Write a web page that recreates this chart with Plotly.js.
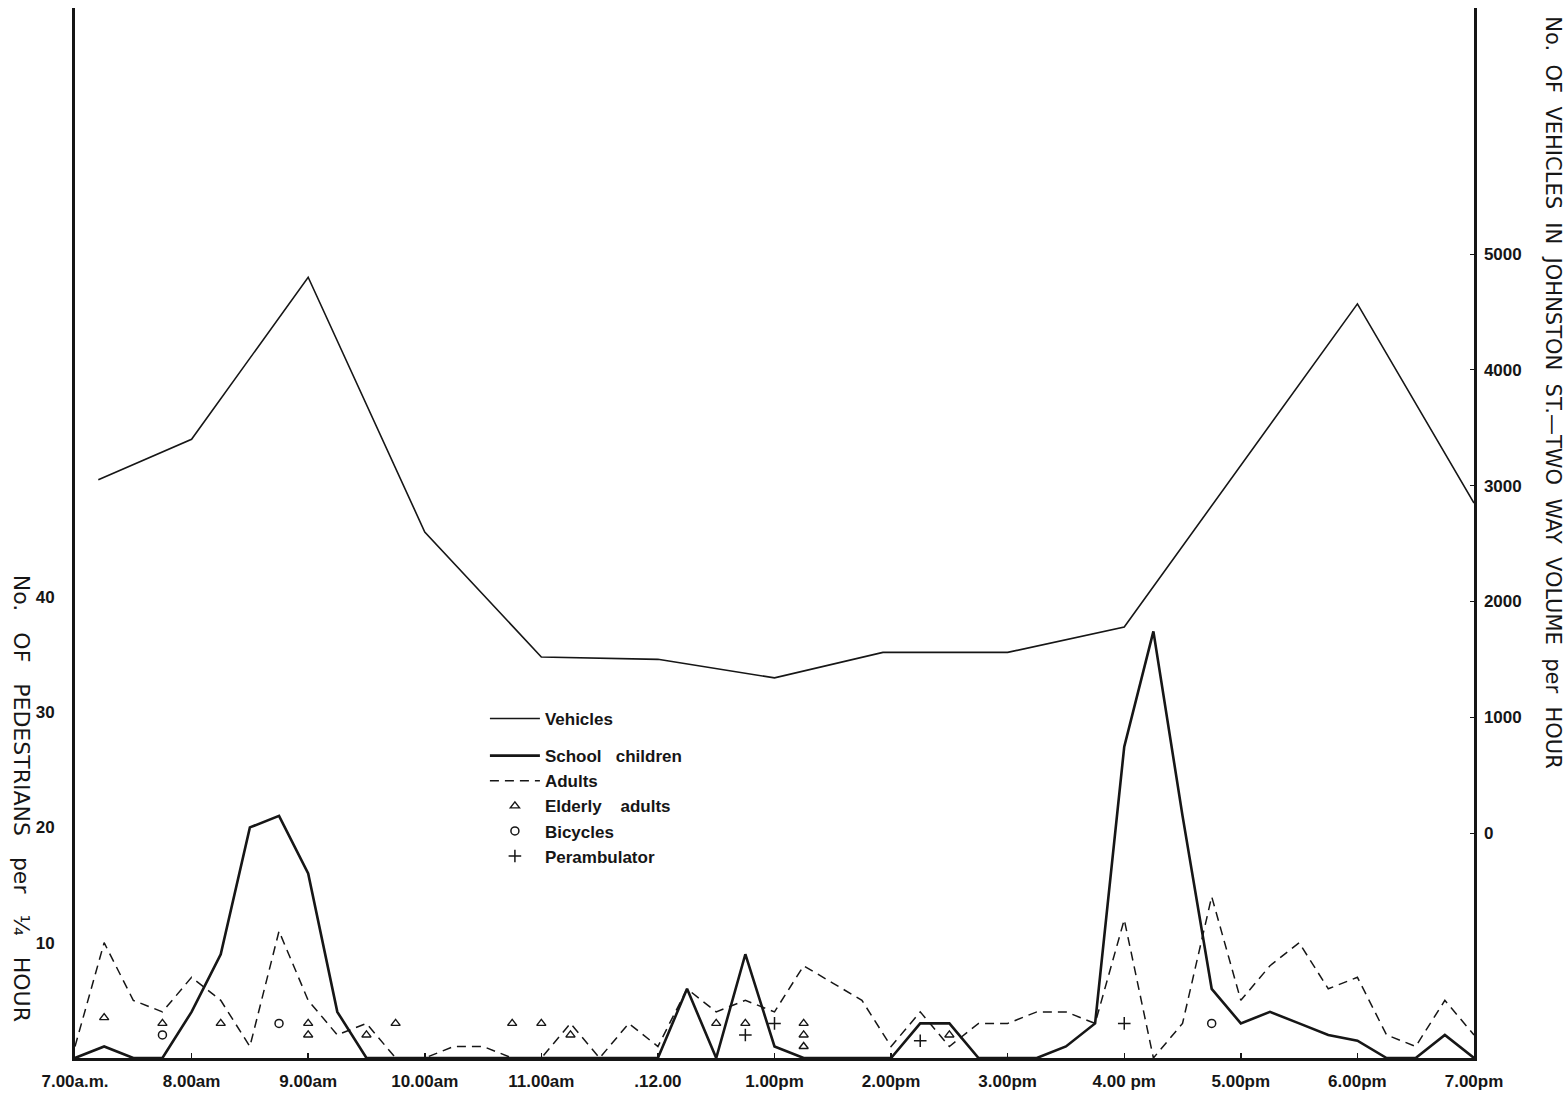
<!DOCTYPE html>
<html>
<head>
<meta charset="utf-8">
<script src="https://cdn.plot.ly/plotly-3.0.1.min.js"></script>
<style>html,body{margin:0;padding:0;background:#fff;}#chart{width:1568px;height:1098px;}</style>
</head>
<body>
<div id="chart"></div>
<script>
// ---- Data (times in decimal hours, 7 = 7.00 a.m., 19 = 7.00 p.m.) ----
const hourTicks = [7, 8, 9, 10, 11, 12, 13, 14, 15, 16, 17, 18, 19];
const hourLabels = ["7.00a.m.", "8.00am", "9.00am", "10.00am", "11.00am", ".12.00", "1.00pm", "2.00pm", "3.00pm", "4.00 pm", "5.00pm", "6.00pm", "7.00pm"];

const pedTickVals = [10, 20, 30, 40];
const vehTickVals = [0, 1000, 2000, 3000, 4000, 5000];

// Vehicles: two-way volume per hour
const vehicleTimes = [7.2, 8, 9, 10, 11, 12, 13, 13.93, 15, 16, 18, 19];
const vehicles = [3050, 3400, 4800, 2600, 1520, 1500, 1340, 1560, 1560, 1780, 4570, 2850];

// Pedestrians per 1/4 hour
const quarterTimes = [7, 7.25, 7.5, 7.75, 8, 8.25, 8.5, 8.75, 9, 9.25, 9.5, 9.75,
  10, 10.25, 10.5, 10.75, 11, 11.25, 11.5, 11.75, 12, 12.25, 12.5, 12.75,
  13, 13.25, 13.5, 13.75, 14, 14.25, 14.5, 14.75, 15, 15.25, 15.5, 15.75,
  16, 16.25, 16.5, 16.75, 17, 17.25, 17.5, 17.75, 18, 18.25, 18.5, 18.75, 19];
const schoolChildren = [0, 1, 0, 0, 4, 9, 20, 21, 16, 4, 0, 0,
  0, 0, 0, 0, 0, 0, 0, 0, 0, 6, 0, 9,
  1, 0, 0, 0, 0, 3, 3, 0, 0, 0, 1, 3,
  27, 37, 21, 6, 3, 4, 3, 2, 1.5, 0, 0, 2, 0];
const adults = [1, 10, 5, 4, 7, 5, 1, 11, 5, 2, 3, 0,
  0, 1, 1, 0, 0, 3, 0, 3, 1, 6, 4, 5,
  4, 8, 6.5, 5, 1, 4, 1, 3, 3, 4, 4, 3,
  12, 0, 3, 14, 5, 8, 10, 6, 7, 2, 1, 5, 2];

const elderlyTimes = [7.25, 7.75, 8.25, 9, 9, 9.5, 9.75, 10.75, 11, 11.25, 12.5, 12.75, 13.25, 13.25, 13.25, 14.5];
const elderlyAdults = [3.5, 3, 3, 3, 2, 2, 3, 3, 3, 2, 3, 3, 3, 2, 1, 2];

const bicycleTimes = [7.75, 8.75, 16.75];
const bicycles = [2, 3, 3];

const perambTimes = [12.75, 13, 14.25, 16];
const perambulators = [2, 3, 1.5, 3];

// ---- Styling ----
const INK = '#161616';
const tickFont = {family: 'Liberation Sans, Arial, sans-serif', size: 17, color: INK, weight: 'bold'};
const numFont = {family: 'Liberation Sans, Arial, sans-serif', size: 17, color: INK, weight: 'bold'};
const titleFont = {family: 'DejaVu Sans, sans-serif', size: 21, color: INK};

const traces = [
  {x: vehicleTimes, y: vehicles, yaxis: 'y2', type: 'scatter', mode: 'lines', name: 'Vehicles',
   legendgroup: 'veh', line: {color: INK, width: 1.6}},
  {x: quarterTimes, y: schoolChildren, type: 'scatter', mode: 'lines', name: 'School\u00a0\u00a0\u00a0children',
   legendgroup: 'ped', line: {color: INK, width: 2.6}},
  {x: quarterTimes, y: adults, type: 'scatter', mode: 'lines', name: 'Adults',
   legendgroup: 'ped', line: {color: INK, width: 1.5, dash: '9px,6px'}},
  {x: elderlyTimes, y: elderlyAdults, type: 'scatter', mode: 'markers', name: 'Elderly\u00a0\u00a0\u00a0\u00a0adults',
   legendgroup: 'ped', marker: {symbol: 'triangle-up-open', size: 8, color: INK, line: {width: 1.4, color: INK}}},
  {x: bicycleTimes, y: bicycles, type: 'scatter', mode: 'markers', name: 'Bicycles',
   legendgroup: 'ped', marker: {symbol: 'circle-open', size: 8, color: INK, line: {width: 1.5, color: INK}}},
  {x: perambTimes, y: perambulators, type: 'scatter', mode: 'markers', name: 'Perambulator',
   legendgroup: 'ped', marker: {symbol: 'cross-thin-open', size: 9, color: INK, line: {width: 1.5, color: INK}}}
];

const layout = {
  width: 1568, height: 1098,
  margin: {l: 75, r: 94, t: 8, b: 40},
  paper_bgcolor: '#ffffff', plot_bgcolor: '#ffffff',
  showlegend: true,
  legend: {x: 0.293, y: 0.34, xanchor: 'left', yanchor: 'top', bgcolor: 'rgba(0,0,0,0)',
           traceorder: 'grouped', tracegroupgap: 12, itemwidth: 50,
           font: {family: 'Liberation Sans, Arial, sans-serif', size: 17, color: INK, weight: 'bold'}},
  xaxis: {range: [7, 19], tickvals: hourTicks, ticktext: hourLabels, ticks: 'inside', ticklen: 5, tickwidth: 1.5,
          tickcolor: INK, showline: true, linewidth: 2.5, linecolor: INK, showgrid: false, zeroline: false,
          tickfont: tickFont, ticklabelstandoff: 6, fixedrange: true},
  yaxis: {range: [0, 91.07], tickvals: pedTickVals, ticks: '', showline: true, linewidth: 3, linecolor: INK,
          showgrid: false, zeroline: false, tickfont: numFont, ticklabelstandoff: 14},
  yaxis2: {overlaying: 'y', side: 'right', range: [-1943, 7125], tickvals: vehTickVals, ticks: 'inside', ticklen: 4,
           tickwidth: 1, tickcolor: INK, showline: true, linewidth: 2.5, linecolor: INK, showgrid: false,
           zeroline: false, tickfont: numFont, ticklabelstandoff: 4},
  annotations: [
    {xref: 'paper', yref: 'paper', x: -0.038, y: 0.247, xanchor: 'center', yanchor: 'middle', textangle: 90, showarrow: false,
     text: 'No.\u00a0\u00a0 OF\u00a0\u00a0 PEDESTRIANS\u00a0\u00a0 per\u00a0\u00a0 ¼\u00a0\u00a0 HOUR', font: {family: 'DejaVu Sans, sans-serif', size: 22, color: INK}},
    {xref: 'paper', yref: 'paper', x: 1.0565, y: 0.634, xanchor: 'center', yanchor: 'middle', textangle: 90, showarrow: false,
     text: 'No.\u00a0 OF\u00a0 VEHICLES\u00a0 IN\u00a0 JOHNSTON\u00a0 ST.—TWO\u00a0 WAY\u00a0 VOLUME\u00a0 per\u00a0 HOUR', font: titleFont}
  ]
};

Plotly.newPlot('chart', traces, layout, {displayModeBar: false, staticPlot: true});
</script>
</body>
</html>
